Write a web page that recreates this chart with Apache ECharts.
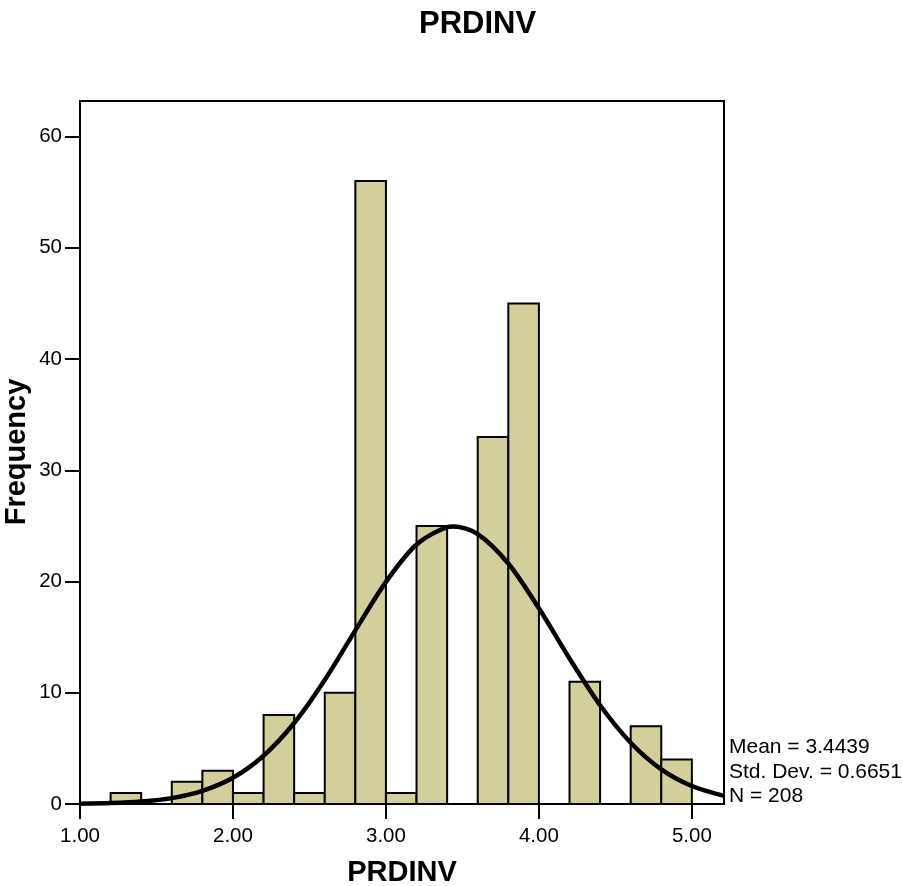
<!DOCTYPE html>
<html>
<head>
<meta charset="utf-8">
<script src="https://cdn.jsdelivr.net/npm/echarts@6/dist/echarts.min.js"></script>
<style>
    html, body { margin: 0; padding: 0; background: #fff; }
    #main { width: 903px; height: 886px; }
</style>
</head>
<body>
<div id="main"></div>
<script>
// histogram bins (left edge, width 0.2) and their counts
var binStart = [1.2, 1.4, 1.6, 1.8, 2.0, 2.2, 2.4, 2.6, 2.8, 3.0, 3.2, 3.4, 3.6, 3.8, 4.0, 4.2, 4.4, 4.6, 4.8];
var counts   = [1,   0,   2,   3,   1,   8,   1,   10,  56,  1,   25,  0,   33,  45,  0,   11,  0,   7,   4];
var binWidth = 0.2;

// normal curve
var curveX = [1.0, 1.2, 1.4, 1.6, 1.8, 2.0, 2.2, 2.4, 2.6, 2.8, 3.0, 3.2, 3.4, 3.44, 3.6, 3.8, 4.0, 4.2, 4.4, 4.6, 4.8, 5.0, 5.21];
var curveY = [0.03, 0.08, 0.22, 0.53, 1.18, 2.36, 4.34, 7.28, 11.15, 15.61, 19.97, 23.33, 24.9, 24.95, 24.27, 21.62, 17.59, 13.08, 8.88, 5.51, 3.12, 1.62, 0.73];

var xTicks = [1, 2, 3, 4, 5];
var yTicks = [0, 10, 20, 30, 40, 50, 60];
var statsLines = ['Mean = 3.4439', 'Std. Dev. = 0.6651', 'N = 208'];

$main();

function $main() {
    var myChart = echarts.init(document.getElementById('main'));
    var font = "'Liberation Sans', Arial, sans-serif";

    var barData = [];
    for (var i = 0; i < binStart.length; i++) {
        if (counts[i] > 0) {
            barData.push([binStart[i], binStart[i] + binWidth, counts[i]]);
        }
    }
    var lineData = [];
    for (var j = 0; j < curveX.length; j++) {
        lineData.push([curveX[j], curveY[j]]);
    }

    var graphics = [];
    for (var k = 0; k < statsLines.length; k++) {
        graphics.push({
            type: 'text',
            left: 729,
            top: 737 + k * 24.5,
            style: {
                text: statsLines[k],
                font: '21px ' + font,
                fill: '#000'
            }
        });
    }
    // y axis title
    graphics.push({
        type: 'text',
        x: 17,
        y: 452,
        rotation: Math.PI / 2,
        style: {
            text: 'Frequency',
            font: 'bold 29px ' + font,
            fill: '#000',
            align: 'center',
            verticalAlign: 'middle'
        }
    });

    var option = {
        animation: false,
        backgroundColor: '#fff',
        title: {
            text: 'PRDINV',
            left: 414,
            top: 4,
            textStyle: {
                fontFamily: font,
                fontSize: 31,
                fontWeight: 'bold',
                color: '#000'
            }
        },
        grid: {
            left: 80,
            right: 179,
            top: 101,
            bottom: 82,
            containLabel: false,
            outerBoundsMode: 'none',
            show: true,
            borderColor: '#000',
            borderWidth: 2,
            backgroundColor: '#fff'
        },
        xAxis: {
            type: 'value',
            min: 1,
            max: 5.21,
            interval: 1,
            name: 'PRDINV',
            nameLocation: 'middle',
            nameGap: 54,
            nameTextStyle: { fontFamily: font, fontSize: 29, fontWeight: 'bold', color: '#000' },
            splitLine: { show: false },
            axisLine: { show: true, lineStyle: { color: '#000', width: 2 } },
            axisTick: { show: true, length: 15, lineStyle: { color: '#000', width: 2 }, customValues: xTicks },
            axisLabel: {
                fontFamily: font,
                fontSize: 20.5,
                color: '#000',
                margin: 22,
                customValues: xTicks,
                formatter: function (v) { return v.toFixed(2); }
            }
        },
        yAxis: {
            type: 'value',
            min: 0,
            max: 63.2,
            interval: 10,
            splitLine: { show: false },
            axisLine: { show: true, lineStyle: { color: '#000', width: 2 } },
            axisTick: { show: true, length: 15, lineStyle: { color: '#000', width: 2 }, customValues: yTicks },
            axisLabel: {
                fontFamily: font,
                fontSize: 20.5,
                color: '#000',
                margin: 18,
                customValues: yTicks
            }
        },
        graphic: graphics,
        series: [
            {
                name: 'Frequency',
                type: 'custom',
                z: 2,
                renderItem: function (params, api) {
                    var p0 = api.coord([api.value(0), api.value(2)]);
                    var p1 = api.coord([api.value(1), 0]);
                    return {
                        type: 'rect',
                        shape: { x: p0[0], y: p0[1], width: p1[0] - p0[0], height: p1[1] - p0[1] },
                        style: { fill: '#d3cf9b', stroke: '#000', lineWidth: 2 }
                    };
                },
                encode: { x: [0, 1], y: 2 },
                data: barData
            },
            {
                name: 'Normal',
                type: 'line',
                z: 3,
                smooth: 0.3,
                showSymbol: false,
                lineStyle: { color: '#000', width: 4.5 },
                data: lineData
            }
        ]
    };
    // 为echarts对象加载数据
    myChart.setOption(option);
}
</script>
</body>
</html>
